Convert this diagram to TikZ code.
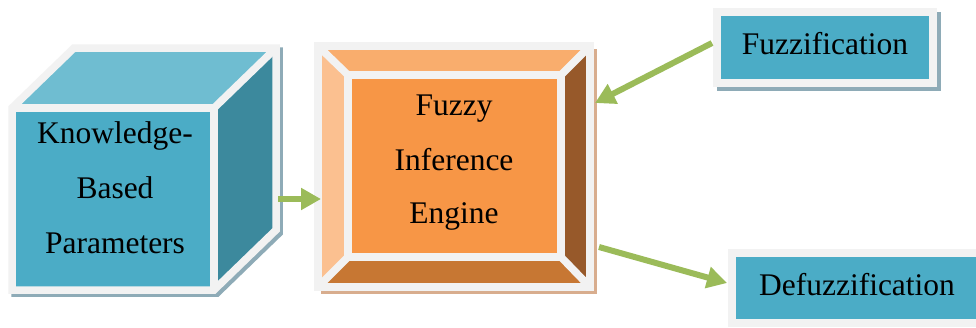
\documentclass[tikz,border=0pt]{standalone}
\usepackage{fontspec}
\setmainfont{Liberation Serif}
\usetikzlibrary{arrows.meta}

\definecolor{frame}{HTML}{F2F2F2}
\definecolor{aqua}{HTML}{4BACC6}
\definecolor{aquatop}{HTML}{6FBDD1}
\definecolor{aquaside}{HTML}{3C899D}
\definecolor{aquashadow}{HTML}{8EABB7}
\definecolor{ormain}{HTML}{F79646}
\definecolor{ortop}{HTML}{F9AD6D}
\definecolor{orleft}{HTML}{FBC090}
\definecolor{orright}{HTML}{97592A}
\definecolor{orbottom}{HTML}{C77733}
\definecolor{orshadow}{HTML}{D8AD8E}
\definecolor{flow}{HTML}{9BBB59}

\begin{document}
\begin{tikzpicture}[x=1pt,y=-1pt,
  edge/.style={draw=frame, line width=7.5pt, line join=miter, line cap=butt},
  flatbox/.style={rectangle, draw=frame, line width=8pt, fill=aqua, inner sep=0pt},
  txt/.style={font=\fontsize{31.5}{38}\selectfont, anchor=base, inner sep=0pt, text=black},
  flowarrow/.style={draw=flow, line width=6pt, -{Triangle[length=20pt,width=21pt]}}]

\clip (0,0) rectangle (976,327);
\fill[white] (0,0) rectangle (976,327);

% ---- knowledge cube ----
\begin{scope}[shift={(3,3)}]
  \filldraw[aquashadow, line width=7.5pt, line join=miter]
    (12,290) -- (12,108) -- (74,48) -- (276,48) -- (276,230) -- (214,290) -- cycle;
\end{scope}
\fill[aquatop]  (12,108) -- (74,48) -- (276,48) -- (214,108) -- cycle;
\fill[aquaside] (214,108) -- (276,48) -- (276,230) -- (214,290) -- cycle;
\node[rectangle, fill=aqua, minimum width=202pt, minimum height=182pt,
      inner sep=0pt, outer sep=3.75pt] (kb) at (113,199) {};
\draw[edge] (12,290) -- (12,108) -- (74,48) -- (276,48) -- (276,230) -- (214,290) -- cycle;
\draw[edge] (12,108) -- (214,108) -- (214,290);
\draw[edge] (214,108) -- (276,48);
\node[txt] (kb1) at (115,143) {Knowledge-};
\node[txt] (kb2) at (115,198) {Based};
\node[txt] (kb3) at (115,253) {Parameters};

% ---- inference engine (bevelled frame) ----
\fill[orshadow] (321,49) rectangle (597,294);
\node[rectangle, minimum width=272pt, minimum height=241pt, inner sep=0pt,
      outer sep=3.75pt] (fie) at (454,166.5) {};
\fill[ortop]    (318,46) -- (590,46) -- (561,75) -- (348,75) -- cycle;
\fill[orleft]   (318,46) -- (348,75) -- (348,257) -- (318,287) -- cycle;
\fill[orright]  (590,46) -- (590,287) -- (561,257) -- (561,75) -- cycle;
\fill[orbottom] (318,287) -- (348,257) -- (561,257) -- (590,287) -- cycle;
\node[rectangle, draw=frame, line width=7.5pt, fill=ormain, minimum width=213pt,
      minimum height=182pt, inner sep=0pt] (fiecore) at (454.5,166) {};
\draw[edge] (318,46) rectangle (590,287);
\draw[edge] (318,46) -- (348,75)  (590,46) -- (561,75)
            (318,287) -- (348,257) (590,287) -- (561,257);
\node[txt] (fie1) at (454,115) {Fuzzy};
\node[txt] (fie2) at (454,170) {Inference};
\node[txt] (fie3) at (454,223) {Engine};

% ---- fuzzification ----
\node[rectangle, draw=aquashadow, fill=aquashadow, line width=8pt, minimum width=216pt,
      minimum height=71pt, inner sep=0pt] (fzshadow) at (829,51.5) {};
\node[flatbox, minimum width=216pt, minimum height=71pt] (fz) at (825,47.5) {};
\node[txt] (fzlabel) at (825,54) {Fuzzification};

% ---- defuzzification ----
\node[flatbox, minimum width=249pt, minimum height=70pt] (dfz) at (856.5,288) {};
\node[txt] (dfzlabel) at (857,295) {Defuzzification};

% ---- connectors ----
\coordinate (kbout)  at (278,199);
\coordinate (fiein)  at (321,199);
\coordinate (fzout)  at (712,43);
\coordinate (fiein2) at (595,103);
\coordinate (fieout) at (599,247);
\coordinate (dfzin)  at (727,283);
\draw[flowarrow] (kbout) -- (fiein);
\draw[flowarrow] (fzout) -- (fiein2);
\draw[flowarrow] (fieout) -- (dfzin);
\end{tikzpicture}
\end{document}
